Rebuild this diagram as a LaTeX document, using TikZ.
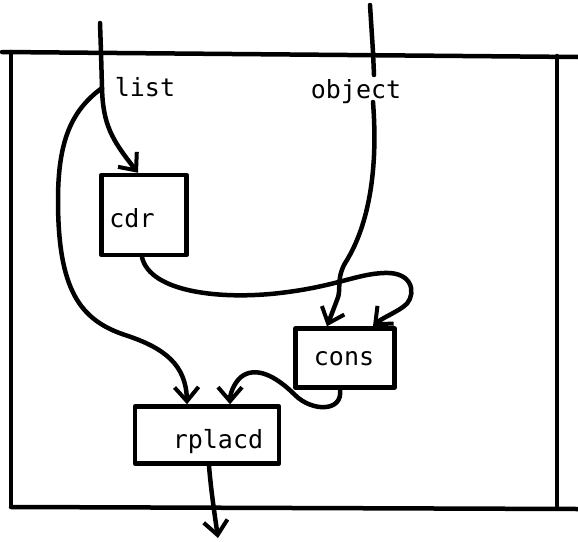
\documentclass[tikz,border=0pt]{standalone}
\usepackage{fontspec}
\setmonofont{DejaVu Sans Mono}
\usetikzlibrary{arrows.meta}
\begin{document}
\begin{tikzpicture}[x=1pt,y=-1pt,
  line width=4.5pt, line cap=round, line join=round,
  box/.style={draw, rectangle, inner sep=0pt},
  lbl/.style={font=\ttfamily\fontsize{25}{25}\selectfont, inner sep=0pt},
  flow/.style={-{Straight Barb[length=14pt,width=24pt,line width=4pt]}}]
\useasboundingbox (0,0) rectangle (578,541);
% frame
\draw (2,52) -- (578,57);
\draw (11,52) -- (11,505);
\draw (557,56) -- (557,506);
\draw (11,507) -- (578,509);
% boxes
\node[box, minimum width=85pt, minimum height=80pt] (cdr) at (144,215) {};
\node[box, minimum width=99pt, minimum height=59pt] (cons) at (345,358) {};
\node[box, minimum width=144pt, minimum height=57pt] (rplacd) at (207,435) {};
\node[lbl] (cdrt) at (132,218) {cdr};
\node[lbl] (const) at (344,359) {cons};
\node[lbl] (rplacdt) at (218,442) {rplacd};
% labels
\node[lbl] (listt) at (145,87) {list};
\node[lbl] (objt) at (356,92) {object};
% coordinates
\coordinate (listin) at (100,23);
\coordinate (fork) at (102,88);
\coordinate (objin) at (370,5);
\coordinate (objtop) at (374,75);
\coordinate (objbot) at (373,102);
\coordinate (out) at (218,538);
% list input
\draw (listin) -- (101,52) -- (fork);
\draw[flow] (fork) .. controls (103,125) and (112,140) .. (cdr.north -| 138,0);
\draw[flow] (fork) .. controls (72,110) and (58,140) .. (58,200)
  .. controls (58,290) and (80,320) .. (125,335)
  .. controls (165,348) and (186,365) .. (rplacd.north -| 187,0);
% object input
\draw (objin) -- (373,52) -- (objtop);
\draw[flow] (objbot) .. controls (379,180) and (365,230) .. (347,260)
  .. controls (335,278) and (342,290) .. (337,300) -- (cons.north -| 327,0);
% cdr output
\draw[flow] (cdr.south -| 142,0) .. controls (150,292) and (220,300) .. (280,293)
  .. controls (340,286) and (360,272) .. (390,273)
  .. controls (417,275) and (415,300) .. (403,307)
  .. controls (393,314) and (382,318) .. (cons.north -| 373,0);
% cons output
\draw[flow] (cons.south -| 340,0) .. controls (343,412) and (312,412) .. (295,395)
  .. controls (275,375) and (255,366) .. (241,377)
  .. controls (233,384) and (230,395) .. (rplacd.north -| 230,0);
% rplacd output
\draw[flow] (rplacd.south -| 209,0) .. controls (211,490) and (214,510) .. (out);
\end{tikzpicture}
\end{document}
